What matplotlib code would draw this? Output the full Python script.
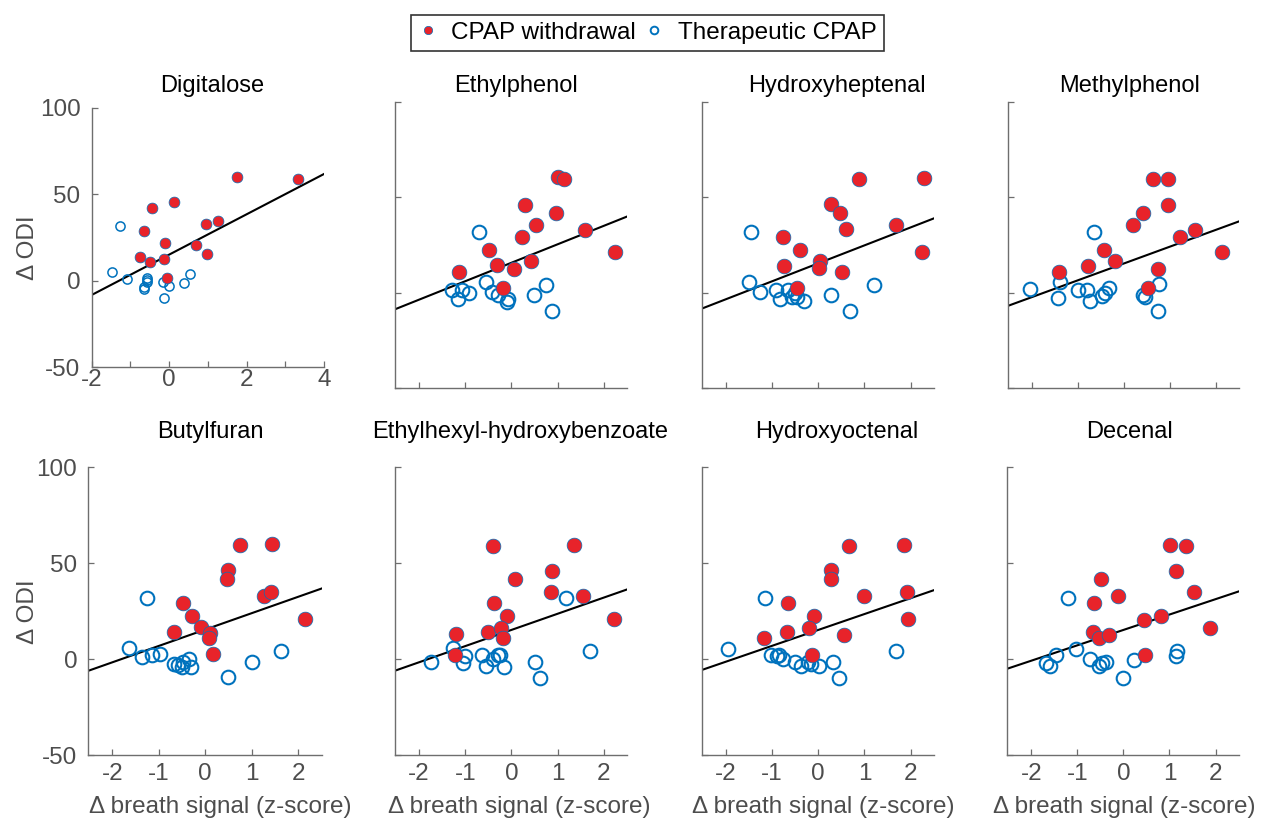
import matplotlib
matplotlib.use("Agg")
import matplotlib.pyplot as plt
from matplotlib.lines import Line2D
import numpy as np

# values: withdrawal (wd) and therapeutic (th) groups
dig_wd_x = [1.74, 3.34, 0.13, -0.43, -0.65, 0.95, 1.25, -0.11, 0.69, 0.97, -0.75, -0.49, -0.12, -0.05]
dig_wd_y = [59.8, 58.8, 45.7, 41.8, 28.7, 32.6, 34.7, 21.6, 20.7, 15.5, 13.7, 10.7, 12.4, 1.4]
dig_th_x = [-1.27, -1.48, -1.08, -0.58, -0.58, -0.64, -0.64, -0.15, 0.00, -0.12, 0.38, 0.54, -0.56]
dig_th_y = [31.8, 4.9, 1.0, 1.4, -0.5, -3.4, -5.0, -0.5, -3.0, -9.7, -1.1, 3.7, 0.4]

eph_wd_x = [1.02, 1.14, 0.29, 0.96, 0.54, 0.24, 1.59, -0.48, 2.24, -1.13, -0.32, 0.05, 0.43, -0.18]
eph_wd_y = [60.4, 59.5, 45.9, 41.9, 35.4, 29.3, 33.1, 22.3, 21.1, 11.0, 14.5, 12.7, 16.6, 2.3]
eph_th_x = [-0.71, -1.28, -1.07, -0.91, -1.15, -0.54, -0.41, -0.30, -0.08, -0.10, 0.48, 0.74, 0.87]
eph_th_y = [31.6, 1.7, 1.7, 0.0, -3.5, 5.8, 0.5, -1.2, -3.5, -4.7, -1.2, 4.0, -9.4]

hhp_wd_x = [0.89, 2.28, 0.27, 0.47, 0.60, 1.68, -0.76, -0.40, 2.24, 0.04, 0.01, -0.74, 0.51, -0.46]
hhp_wd_y = [59.3, 60.2, 46.2, 41.9, 33.3, 35.4, 29.0, 22.3, 21.1, 16.6, 13.1, 14.1, 11.0, 2.3]
hhp_th_x = [-1.46, -1.49, -1.26, -0.92, -0.82, -0.66, -0.56, -0.45, -0.30, 0.27, 0.69, 1.20, -0.51]
hhp_th_y = [31.6, 5.8, 0.5, 1.7, -3.5, 1.7, -2.1, -2.4, -4.2, -1.2, -9.4, 4.0, -0.3]

mph_wd_x = [0.64, 0.96, 0.96, 0.41, 0.20, 1.54, 1.23, -0.43, 2.14, -0.18, -0.78, -1.41, 0.75, 0.52]
mph_wd_y = [59.8, 59.5, 45.9, 41.9, 35.4, 33.1, 29.3, 22.3, 21.1, 16.6, 14.1, 11.0, 12.7, 2.3]
mph_th_x = [-0.64, -2.03, -1.38, -1.43, -0.99, -0.80, -0.74, -0.47, -0.40, -0.33, 0.42, 0.47, 0.76, 0.75]
mph_th_y = [31.6, 1.9, 5.8, -3.0, 1.4, 1.7, -4.2, -1.7, 0.0, 2.3, -1.2, -2.4, 4.5, -9.4]

btf_wd_x = [0.76, 1.44, 0.50, 0.47, 1.26, 1.41, -0.48, -0.29, 2.16, -0.68, -0.09, 0.11, 0.09, 0.17]
btf_wd_y = [59.5, 60.0, 46.4, 41.7, 32.9, 35.1, 29.0, 22.6, 20.9, 14.3, 16.5, 13.4, 11.1, 2.4]
btf_th_x = [-1.25, -1.64, -1.37, -1.15, -0.97, -0.68, -0.58, -0.47, -0.50, -0.36, -0.31, 0.49, 1.01, 1.64]
btf_th_y = [31.7, 5.6, 0.9, 2.1, 2.4, -2.3, -3.1, -1.4, -4.0, 0.3, -4.3, -9.2, -1.4, 4.3]

ehb_wd_x = [-0.40, 1.36, 0.88, 0.08, 0.86, 1.55, -0.37, -0.09, 2.22, -1.19, -0.51, -0.22, -0.19, -1.21]
ehb_wd_y = [59.1, 59.7, 45.7, 41.7, 35.1, 32.7, 29.0, 22.3, 20.9, 13.0, 13.9, 16.2, 10.8, 2.1]
ehb_th_x = [1.18, -1.73, -1.27, -1.01, -1.05, -0.63, -0.55, -0.40, -0.29, -0.24, -0.17, 0.52, 0.63, 1.70]
ehb_th_y = [31.7, -1.7, 5.6, 1.4, -2.1, 2.1, -3.8, 0.3, 2.1, 2.1, -4.3, -1.7, -9.6, 4.0]

hoc_wd_x = [0.67, 1.86, 0.27, 0.27, 1.00, 1.91, -0.65, -0.10, 1.94, -1.18, -0.68, -0.21, 0.55, -0.14]
hoc_wd_y = [59.1, 59.7, 46.6, 41.7, 32.7, 35.1, 29.0, 22.6, 20.9, 10.8, 13.9, 16.2, 12.7, 2.1]
hoc_th_x = [-1.16, -1.96, -1.03, -0.84, -0.77, -0.51, -0.38, -0.23, -0.16, 0.02, 0.33, 0.44, 1.68, -0.90]
hoc_th_y = [31.7, 5.2, 2.1, 2.1, 0.0, -1.7, -3.8, -1.7, -2.6, -3.8, -1.7, -9.6, 4.0, 1.4]

dec_wd_x = [1.02, 1.37, 1.15, -0.48, 1.53, -0.12, -0.63, 0.81, 0.45, 1.87, -0.65, -0.52, -0.32, 0.47]
dec_wd_y = [59.5, 59.1, 45.7, 41.7, 35.1, 32.7, 29.0, 22.3, 20.5, 16.2, 14.3, 10.8, 12.7, 2.1]
dec_th_x = [-1.21, -1.46, -1.67, -1.60, -1.02, -0.72, -0.54, -0.47, -0.37, 0.22, -0.01, 1.14, 1.17]
dec_th_y = [31.7, 2.1, -2.1, -3.8, 5.2, 0.3, -3.8, -2.1, -1.4, -0.5, -9.6, 1.4, 4.3]

titles = ["Digitalose", "Ethylphenol", "Hydroxyheptenal", "Methylphenol",
          "Butylfuran", "Ethylhexyl-hydroxybenzoate", "Hydroxyoctenal", "Decenal"]
# fitted line per panel (slope, intercept)
fit_slope = [11.65, 9.66, 9.41, 8.81, 8.53, 8.43, 8.29, 8.02]
fit_icpt = [15.1, 15.7, 15.4, 15.3, 15.4, 15.2, 15.2, 15.2]

wd_sets = [(dig_wd_x, dig_wd_y), (eph_wd_x, eph_wd_y), (hhp_wd_x, hhp_wd_y), (mph_wd_x, mph_wd_y),
           (btf_wd_x, btf_wd_y), (ehb_wd_x, ehb_wd_y), (hoc_wd_x, hoc_wd_y), (dec_wd_x, dec_wd_y)]
th_sets = [(dig_th_x, dig_th_y), (eph_th_x, eph_th_y), (hhp_th_x, hhp_th_y), (mph_th_x, mph_th_y),
           (btf_th_x, btf_th_y), (ehb_th_x, ehb_th_y), (hoc_th_x, hoc_th_y), (dec_th_x, dec_th_y)]

plt.rcParams['font.family'] = ['Liberation Sans', 'DejaVu Sans']
plt.rcParams['axes.unicode_minus'] = False

W, H = 1265, 821
RED = '#E8232A'
BLUE = '#0072BD'
GREY = '#4d4d4d'
FS = 17.5

# axes boxes in pixels: left, right, top, bottom
boxes = [(91.7, 324, 107.7, 367.3), (395, 627.3, 101.7, 388.3),
         (701.7, 934.3, 101.7, 388.3), (1007.7, 1239.3, 101.7, 388.3),
         (88.3, 321.7, 467.3, 755), (395, 627.3, 467.3, 755),
         (701.7, 934.3, 467.3, 755), (1007.3, 1239, 467.3, 755)]
title_x = [212, 516, 836.5, 1130, 210, 520, 836.5, 1130]
xlab_x = [220, 519, 823, 1124]

fig = plt.figure(figsize=(W / 100, H / 100), dpi=100)

for i in range(8):
    l, r, t, b = boxes[i]
    ax = fig.add_axes([l / W, 1 - b / H, (r - l) / W, (b - t) / H])
    if i == 0:
        xlim = (-2, 4)
        ms_r, ms_b, mew_b = 7.8, 6.6, 1.1
    else:
        xlim = (-2.52, 2.51)
        ms_r, ms_b, mew_b = 10.6, 9.8, 1.5
    xx = np.array(xlim)
    ax.plot(xx, fit_slope[i] * xx + fit_icpt[i], color='black', lw=1.5, zorder=1)
    ax.plot(th_sets[i][0], th_sets[i][1], 'o', ls='none', mfc='none', mec=BLUE,
            mew=mew_b, ms=ms_b, zorder=2)
    ax.plot(wd_sets[i][0], wd_sets[i][1], 'o', ls='none', mfc=RED, mec=BLUE,
            mew=0.5, ms=ms_r, zorder=3)
    ax.set_xlim(xlim)
    ax.set_ylim(-50, 100)
    ax.set_yticks([-50, 0, 50, 100])
    if i == 0:
        ax.set_xticks([-2, -1, 0, 1, 2, 3, 4])
        ax.set_xticklabels(['-2', '', '0', '', '2', '', '4'])
    else:
        ax.set_xticks([-2, -1, 0, 1, 2])
        ax.set_xticklabels(['-2', '-1', '0', '1', '2'])
    for s in ['top', 'right']:
        ax.spines[s].set_visible(False)
    for s in ['left', 'bottom']:
        ax.spines[s].set_color('#6e6e6e')
        ax.spines[s].set_linewidth(1.0)
    ax.tick_params(direction='in', length=4, width=0.9, color='#6e6e6e',
                   labelcolor=GREY, labelsize=FS)
    ax.tick_params(axis='y', pad=8)
    ax.tick_params(axis='x', pad=1 if i == 0 else 6)
    if i % 4 != 0:
        ax.tick_params(axis='y', labelleft=False)
    if 0 < i < 4:
        ax.tick_params(axis='x', labelbottom=False)
    ty = 92.3 if i < 4 else 437.7
    fig.text(title_x[i] / W, 1 - ty / H, titles[i], ha='center', va='baseline',
             fontsize=17, color='black')

for row_y in [248, 612]:
    fig.text(39 / W, 1 - row_y / H, '\u0394 ODI', rotation=90, ha='right', va='center',
             fontsize=FS, color=GREY)
for cx in xlab_x:
    fig.text(cx / W, 1 - 813 / H, '\u0394 breath signal (z-score)', ha='center',
             va='baseline', fontsize=FS, color=GREY)

handles = [Line2D([], [], marker='o', ls='none', mfc=RED, mec=BLUE, mew=0.5, ms=6),
           Line2D([], [], marker='o', ls='none', mfc='none', mec=BLUE, mew=1.4, ms=5.5)]
leg = fig.legend(handles, ['CPAP withdrawal', 'Therapeutic CPAP'], loc='center',
                 bbox_to_anchor=(647.5 / W, 1 - 33 / H), ncol=2, fontsize=FS,
                 frameon=True, fancybox=False, edgecolor='black', handlelength=0.8,
                 handletextpad=0.55, columnspacing=0.35, borderpad=0.3,
                 borderaxespad=0)
leg.get_frame().set_linewidth(1.2)

fig.savefig('out.png', dpi=100)
